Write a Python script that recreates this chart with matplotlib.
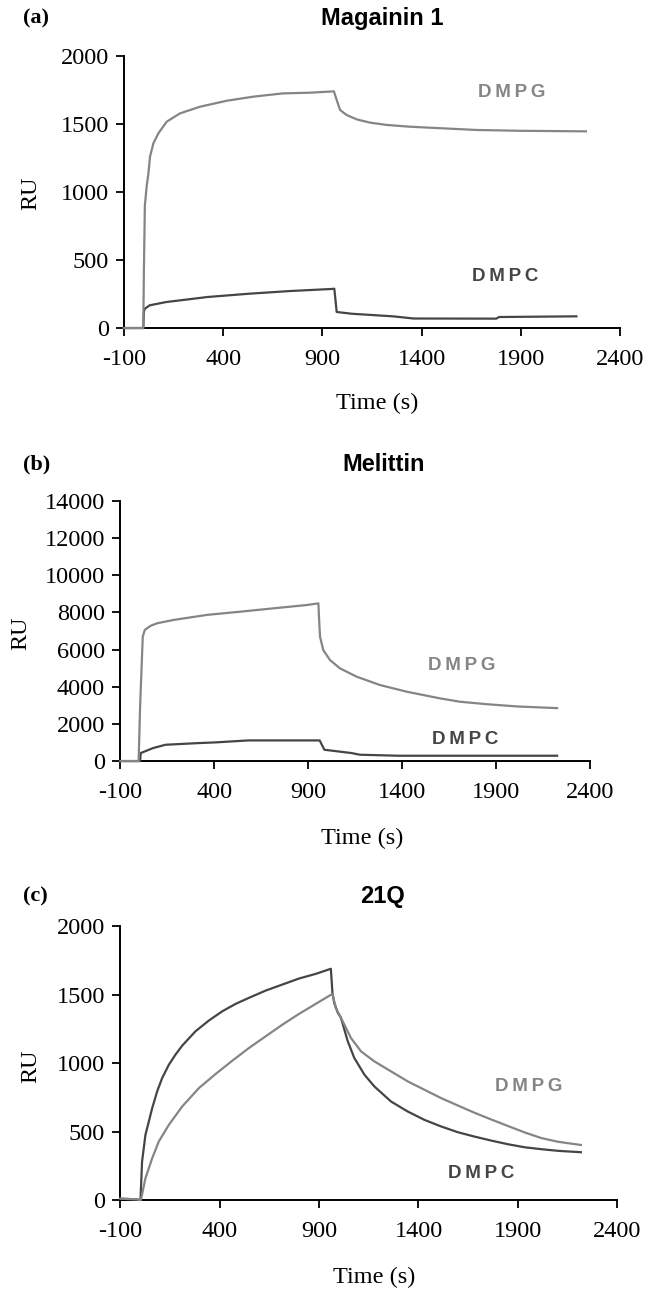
import matplotlib
matplotlib.use("Agg")
import matplotlib.pyplot as plt

plt.rcParams["axes.unicode_minus"] = False

# ---- data (time in s, response in RU) ----
# (a) Magainin 1
mag_pg_t = [-100, -3, 0, 5, 14, 23, 31, 48, 73, 115, 182, 283, 418, 552, 701, 836, 958,
            972, 989, 1022, 1073, 1140, 1224, 1341, 1509, 1678, 1900, 2228]
mag_pg_ru = [0, 0, 400, 900, 1040, 1137, 1260, 1358, 1431, 1517, 1578, 1627, 1671, 1701,
             1725, 1730, 1740, 1676, 1603, 1566, 1534, 1510, 1493, 1480, 1468, 1456, 1450, 1446]
mag_pc_t = [-100, -3, 0, 5, 29, 112, 320, 528, 736, 944, 960, 972,
            1048, 1256, 1360, 1776, 1790, 2180]
mag_pc_ru = [0, 0, 120, 142, 167, 191, 228, 252, 272, 287, 289, 118,
             105, 86, 70, 69, 81, 86]

# (b) Melittin
mel_pg_t = [-100, -3, 5, 19, 30, 60, 96, 184, 360, 536, 713, 891, 953,
            958, 962, 979, 1015, 1068, 1157, 1281, 1423, 1600, 1706, 1850, 2010, 2223]
mel_pg_ru = [0, 0, 3000, 6704, 7062, 7280, 7420, 7600, 7869, 8041, 8222, 8401, 8492,
             7415, 6695, 5977, 5439, 4990, 4541, 4093, 3734, 3375, 3195, 3060, 2940, 2850]
mel_pc_t = [-100, 5, 8, 30, 74, 140, 316, 404, 580, 800, 960,
            985, 1130, 1174, 1380, 2223]
mel_pc_ru = [0, 0, 430, 520, 700, 878, 968, 1004, 1111, 1111, 1111,
             609, 430, 341, 287, 287]

# (c) 21Q
q_pc_t = [-100, -20, 1, 9, 26, 43, 60, 85, 110, 144, 177, 211, 278, 345, 413, 480,
          547, 631, 715, 799, 883, 959, 967, 976, 993, 1010, 1044, 1077, 1128,
          1178, 1262, 1346, 1430, 1514, 1598, 1682, 1766, 1851, 1935, 2019, 2103, 2217]
q_pc_ru = [10, 5, 0, 280, 476, 573, 671, 793, 890, 988, 1061, 1127, 1232, 1310, 1378, 1432,
           1476, 1529, 1573, 1617, 1651, 1688, 1512, 1439, 1370, 1329, 1159, 1037, 915,
           829, 719, 646, 585, 537, 495, 463, 434, 407, 385, 371, 359, 349]
q_pg_t = [-100, -20, 3, 26, 60, 93, 144, 211, 295, 379, 463, 547, 631, 715, 799, 883, 967,
          984, 1010, 1060, 1111, 1178, 1262, 1346, 1430, 1514, 1598, 1682, 1766, 1851,
          1935, 2019, 2103, 2217]
q_pg_ru = [10, 5, 0, 159, 305, 427, 549, 683, 817, 920, 1017, 1110, 1195, 1280, 1359, 1432, 1505,
           1402, 1330, 1183, 1085, 1012, 939, 866, 805, 744, 690, 637, 588, 540,
           493, 452, 425, 402]

GRAY = "#858585"
DARK = "#454545"
SERIF = ["Liberation Serif", "DejaVu Serif"]
SANS = ["Liberation Sans", "DejaVu Sans"]

fig = plt.figure(figsize=(6.48, 12.93), dpi=100)

panels = [
    dict(rect=[0.1914, 0.7463, 0.7654, 0.2104], ymax=2000, ystep=500,
         pg=(mag_pg_t, mag_pg_ru), pc=(mag_pc_t, mag_pc_ru),
         pg_lab=(1855, 1728), pc_lab=(1822, 380),
         ylab=(-0.188, 0.496), xlab=(0.51, -0.276),
         title="Magainin 1", letter="(a)", ty=0.986, tx=0.5906, lx=0.056),
    dict(rect=[0.1858, 0.4114, 0.7253, 0.2011], ymax=14000, ystep=2000,
         pg=(mel_pg_t, mel_pg_ru), pc=(mel_pc_t, mel_pc_ru),
         pg_lab=(1717, 5126), pc_lab=(1735, 1183),
         ylab=(-0.212, 0.49), xlab=(0.514, -0.296),
         title="Melittin", letter="(b)", ty=0.641, tx=0.5925, lx=0.057),
    dict(rect=[0.1858, 0.0719, 0.7667, 0.2119], ymax=2000, ystep=500,
         pg=(q_pg_t, q_pg_ru), pc=(q_pc_t, q_pc_ru),
         pg_lab=(1956, 829), pc_lab=(1716, 195),
         ylab=(-0.18, 0.49), xlab=(0.51, -0.281),
         title="21Q", letter="(c)", ty=0.3063, tx=0.5906, lx=0.054),
]

for p in panels:
    ax = fig.add_axes(p["rect"])
    ax.plot(*p["pc"], color=DARK, lw=1.6, clip_on=False, zorder=3)
    ax.plot(*p["pg"], color=GRAY, lw=1.6, clip_on=False, zorder=3)
    ax.set_xlim(-100, 2400)
    ax.set_ylim(0, p["ymax"])
    ax.set_xticks(range(-100, 2401, 500))
    ax.set_yticks(range(0, p["ymax"] + 1, p["ystep"]))
    for s in ("top", "right"):
        ax.spines[s].set_visible(False)
    for s in ("left", "bottom"):
        ax.spines[s].set_linewidth(1.4)
    ax.tick_params(axis="y", direction="out", length=6, width=1.3, pad=5)
    ax.tick_params(axis="x", direction="out", length=6, width=1.3, pad=9)
    for lab in ax.get_xticklabels() + ax.get_yticklabels():
        lab.set_family(SERIF)
        lab.set_fontsize(17.5)
    ax.set_ylabel("RU", family=SERIF, fontsize=17.5, va="center")
    ax.yaxis.set_label_coords(*p["ylab"])
    ax.set_xlabel("Time (s)", family=SERIF, fontsize=17.5, va="center")
    ax.xaxis.set_label_coords(*p["xlab"])
    ax.text(*p["pg_lab"], "D\u2009M\u2009P\u2009G", color=GRAY, family=SANS,
            fontweight="bold", fontsize=13.5, ha="center", va="center")
    ax.text(*p["pc_lab"], "D\u2009M\u2009P\u2009C", color=DARK, family=SANS,
            fontweight="bold", fontsize=13.5, ha="center", va="center")
    fig.text(p["tx"], p["ty"], p["title"], family=SANS, fontweight="bold",
             fontsize=17, ha="center", va="center")
    fig.text(p["lx"], p["ty"], p["letter"], family=SERIF, fontweight="bold",
             fontsize=16, ha="center", va="center")

fig.savefig("out.png", dpi=100)
